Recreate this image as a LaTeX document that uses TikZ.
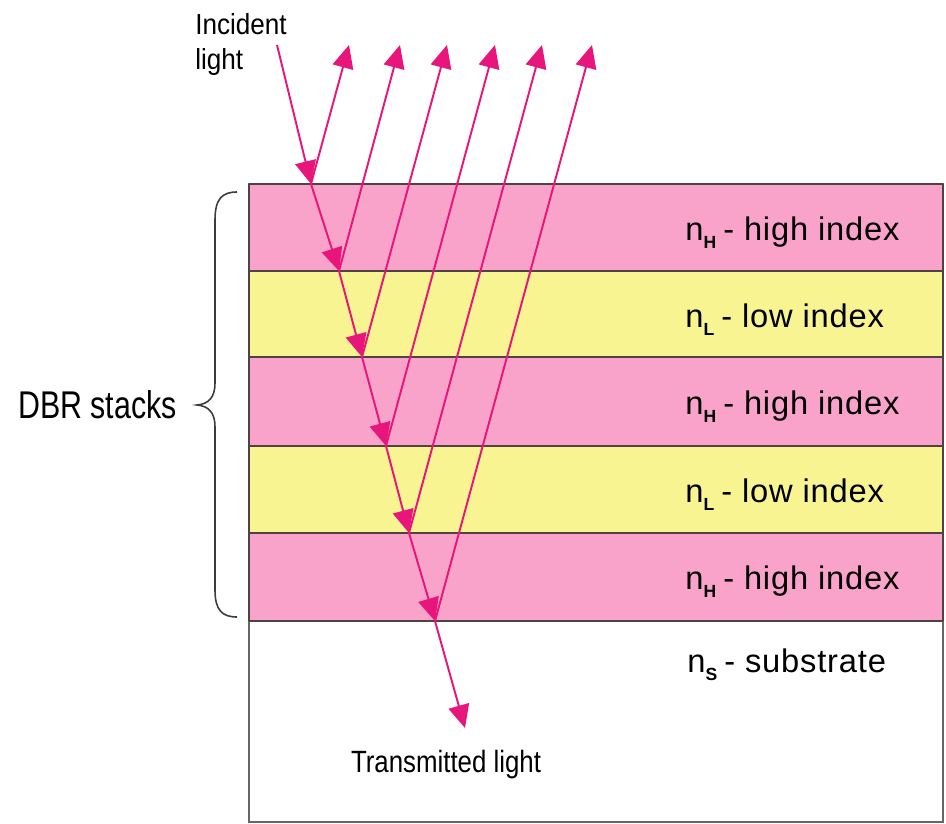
\documentclass[tikz,border=0pt]{standalone}
\usepackage{fontspec}
\setmainfont{Liberation Sans}
\newfontfamily\dbrfont[FakeStretch=0.785]{Liberation Sans}
\newfontfamily\incfont[FakeStretch=0.9]{Liberation Sans}
\newfontfamily\trfont[FakeStretch=0.84]{Liberation Sans}
\newfontfamily\lblfont[LetterSpace=2.5]{Liberation Sans}
\usetikzlibrary{arrows.meta}
\definecolor{layerpink}{RGB}{250,163,202}
\definecolor{layeryellow}{RGB}{248,244,146}
\definecolor{rayc}{RGB}{232,22,122}
\definecolor{edgec}{RGB}{80,66,66}
\definecolor{bracec}{RGB}{60,60,60}
\newcommand\layerlabel[2]{n\raisebox{-5pt}{\fontsize{10}{10}\selectfont\bfseries #1}\hspace{4pt}- #2}
\begin{document}
\begin{tikzpicture}[x=0.02cm,y=-0.02cm,
  ray/.style={draw=rayc, line width=1.1pt, -{Triangle[length=0.46cm,width=0.42cm]}},
  pinklayer/.style={fill=layerpink},
  yellowlayer/.style={fill=layeryellow},
  edge/.style={draw=edgec, line width=1.5pt},
  lbl/.style={anchor=base west, inner sep=0pt, font=\lblfont\fontsize{18.6}{20}\selectfont},
]
\useasboundingbox (0,0) rectangle (946,824);
% layers
\fill[pinklayer]   (249,184) rectangle (943,271);
\fill[yellowlayer] (249,271) rectangle (943,357);
\fill[pinklayer]   (249,357) rectangle (943,446);
\fill[yellowlayer] (249,446) rectangle (943,533);
\fill[pinklayer]   (249,533) rectangle (943,621);
\fill[white]       (249,621) rectangle (943,822);
\draw[draw=gray!80!black, line width=1.2pt] (249,184) rectangle (943,822);
\foreach \yy in {184,271,357,446,533,621}{
  \draw[edge] (249,\yy) -- (943,\yy);
}
\draw[edge] (249,184) -- (249,621);
\draw[edge] (943,184) -- (943,621);

% labels
\node[lbl] (l1) at (685,240) {\layerlabel{H}{high index}};
\node[lbl] (l2) at (685,327) {\layerlabel{L}{low index}};
\node[lbl] (l3) at (685,414) {\layerlabel{H}{high index}};
\node[lbl] (l4) at (685,502) {\layerlabel{L}{low index}};
\node[lbl] (l5) at (685,589) {\layerlabel{H}{high index}};
\node[lbl] (l6) at (687,672) {\layerlabel{S}{substrate}};

\node[anchor=base west, inner sep=0pt, font=\dbrfont\fontsize{22}{24}\selectfont] (dbr) at (18,418) {DBR stacks};
\node[anchor=base west, inner sep=0pt, font=\incfont\fontsize{16.5}{18}\selectfont] (inc1) at (195,35) {Incident};
\node[anchor=base west, inner sep=0pt, font=\incfont\fontsize{16.5}{18}\selectfont] (inc2) at (195,70) {light};
\node[anchor=base, inner sep=0pt, font=\trfont\fontsize{17.5}{19}\selectfont] (tr) at (446,772) {Transmitted light};

% brace
\draw[draw=bracec, line width=0.9pt]
  (237,192) .. controls (222,192) and (215,199) .. (215,220)
  -- (215,383) .. controls (215,397) and (209,404) .. (197,405)
  .. controls (209,406) and (215,413) .. (215,427)
  -- (215,590) .. controls (215,610) and (222,617) .. (237,617);

% ray points
\coordinate (s) at (277,45);
\coordinate (p0) at (311,184);
\coordinate (p1) at (339,271);
\coordinate (p2) at (362,357);
\coordinate (p3) at (386,446);
\coordinate (p4) at (409,533);
\coordinate (p5) at (435,621);
\coordinate (t) at (465,728);
\coordinate (r0) at (349,45);
\coordinate (r1) at (400,45);
\coordinate (r2) at (447,45);
\coordinate (r3) at (495,45);
\coordinate (r4) at (542,45);
\coordinate (r5) at (592,45);

\draw[ray] (p0) -- (r0);
\draw[ray] (p1) -- (r1);
\draw[ray] (p2) -- (r2);
\draw[ray] (p3) -- (r3);
\draw[ray] (p4) -- (r4);
\draw[ray] (p5) -- (r5);
\draw[ray] (s) -- (p0);
\draw[ray] (p0) -- (p1);
\draw[ray] (p1) -- (p2);
\draw[ray] (p2) -- (p3);
\draw[ray] (p3) -- (p4);
\draw[ray] (p4) -- (p5);
\draw[ray] (p5) -- (t);
\end{tikzpicture}
\end{document}
